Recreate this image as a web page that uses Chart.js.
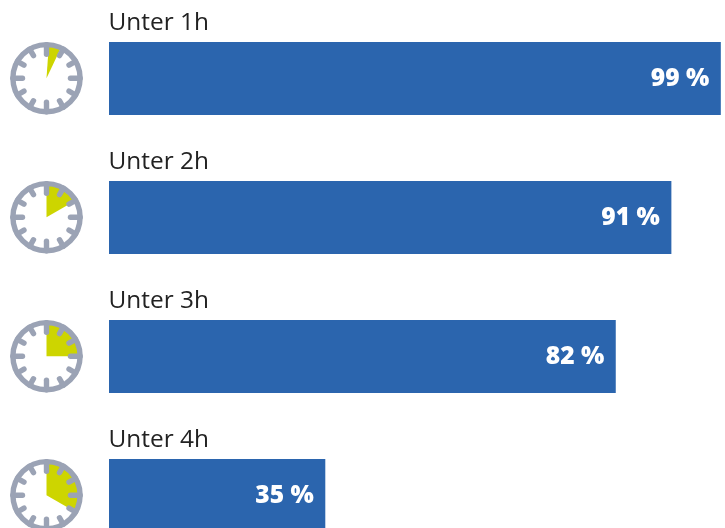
<!DOCTYPE html>
<html lang="de">
<head>
<meta charset="utf-8">
<title>Anteil nach Dauer</title>
<script src="https://cdn.jsdelivr.net/npm/chart.js@4"></script>
<style>
  html, body { margin: 0; padding: 0; width: 725px; height: 528px; overflow: hidden; background: #fff; }
  canvas { display: block; }
</style>
</head>
<body>
<canvas id="chart" width="740" height="600"></canvas>
<script>
const categories = ['Unter 1h', 'Unter 2h', 'Unter 3h', 'Unter 4h'];
const shares = [99, 91, 82, 35];
const hours = [1, 2, 3, 4];

const barColor = '#2B65AE';
const clockColor = '#9BA3B5';
const wedgeColor = '#CDD500';
const textColor = '#222222';

// One clock face per bar; the shaded wedge covers the hours of that row.
function drawClock(ctx, cx, cy, hour) {
  const outer = 33.6;
  const start = -Math.PI / 2;
  const end = start + hour * Math.PI / 6 * (hour === 1 ? 0.85 : 1);
  const wedgeStart = hour === 1 ? start + 0.07 : start;

  ctx.save();
  ctx.beginPath();
  ctx.arc(cx, cy, outer, 0, Math.PI * 2);
  ctx.fillStyle = '#fff';
  ctx.fill();

  ctx.beginPath();
  ctx.moveTo(cx, cy);
  ctx.arc(cx, cy, outer, wedgeStart, end);
  ctx.closePath();
  ctx.fillStyle = wedgeColor;
  ctx.fill();

  ctx.strokeStyle = clockColor;
  ctx.lineWidth = 5.4;
  ctx.beginPath();
  ctx.arc(cx, cy, outer, 0, Math.PI * 2);
  ctx.stroke();

  ctx.lineWidth = 5.4;
  ctx.lineCap = 'round';
  for (let i = 0; i < 12; i++) {
    const a = i * Math.PI / 6;
    const inner = i % 3 === 0 ? 24 : 26;
    ctx.beginPath();
    ctx.moveTo(cx + Math.cos(a) * inner, cy + Math.sin(a) * inner);
    ctx.lineTo(cx + Math.cos(a) * outer, cy + Math.sin(a) * outer);
    ctx.stroke();
  }
  ctx.restore();
}

// Row captions, value labels and clocks, all placed from the bar elements.
const rowDecorations = {
  id: 'rowDecorations',
  afterDatasetsDraw(chart) {
    const { ctx } = chart;
    const bars = chart.getDatasetMeta(0).data;
    bars.forEach((bar, i) => {
      const top = bar.y - bar.height / 2;

      ctx.save();
      ctx.textBaseline = 'alphabetic';
      ctx.textAlign = 'left';
      ctx.fillStyle = textColor;
      ctx.font = '24.4px "Open Sans"';
      ctx.fillText(categories[i], 108.5, top - 12);

      ctx.textAlign = 'right';
      ctx.fillStyle = '#fff';
      ctx.font = '800 24.6px "Open Sans"';
      ctx.fillText(shares[i] + ' %', bar.x - 11.5, bar.y + 7.5);
      ctx.restore();

      drawClock(ctx, 46.5, bar.y - 0.3, hours[i]);
    });
  }
};

new Chart(document.getElementById('chart'), {
  type: 'bar',
  data: {
    labels: categories,
    datasets: [{
      data: shares,
      backgroundColor: barColor,
      borderWidth: 0,
      barPercentage: 1,
      categoryPercentage: 73 / 139
    }]
  },
  options: {
    indexAxis: 'y',
    responsive: false,
    animation: false,
    layout: { padding: { left: 109, right: 13, top: 9, bottom: 35 } },
    plugins: { legend: { display: false }, tooltip: { enabled: false } },
    scales: {
      x: { display: false, min: 0, max: 100 },
      y: { display: false }
    }
  },
  plugins: [rowDecorations]
});
</script>
</body>
</html>
